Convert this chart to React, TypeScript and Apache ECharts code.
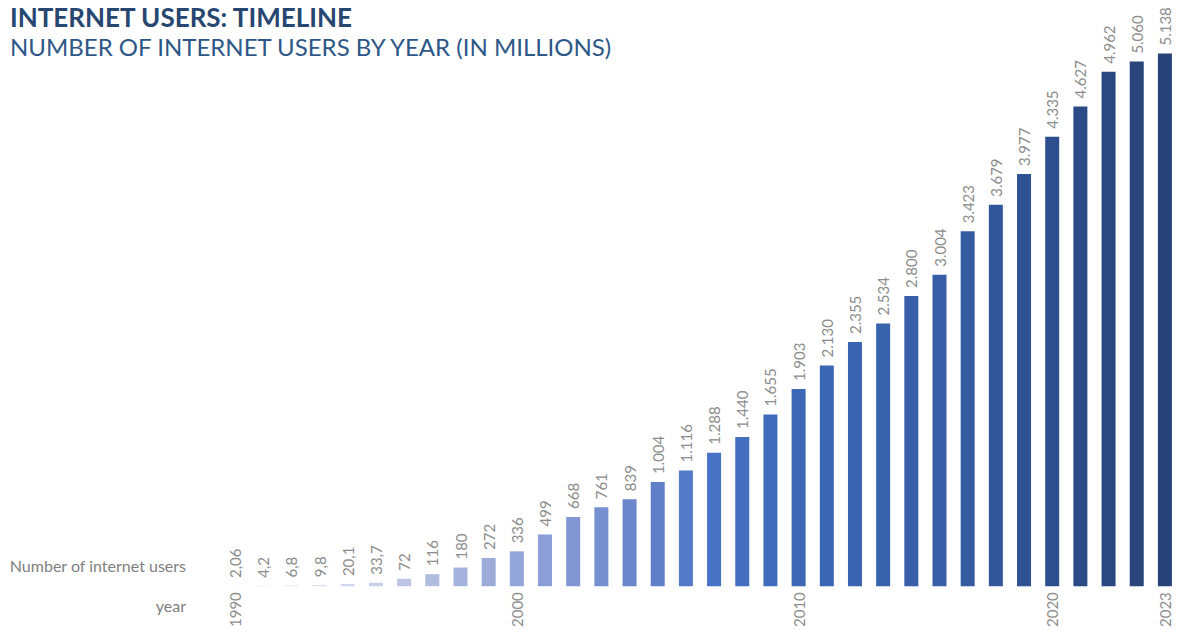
import React, { useEffect, useRef } from "react";
import * as echarts from "echarts";

const years: number[] = [
  1990, 1991, 1992, 1993, 1994, 1995, 1996, 1997, 1998, 1999,
  2000, 2001, 2002, 2003, 2004, 2005, 2006, 2007, 2008, 2009,
  2010, 2011, 2012, 2013, 2014, 2015, 2016, 2017, 2018, 2019,
  2020, 2021, 2022, 2023,
];

const users: number[] = [
  2.06, 4.2, 6.8, 9.8, 20.1, 33.7, 72, 116, 180, 272,
  336, 499, 668, 761, 839, 1004, 1116, 1288, 1440, 1655,
  1903, 2130, 2355, 2534, 2800, 3004, 3423, 3679, 3977, 4335,
  4627, 4962, 5060, 5138,
];

// tick labels as printed under the bars in the reference
const tickLabels: string[] = [
  "1990", "", "", "", "", "", "", "", "", "",
  "2000", "", "", "", "", "", "", "", "", "",
  "2010", "", "", "", "", "", "", "", "", "2020",
  "", "", "", "2023",
];

const TITLE = "INTERNET USERS: TIMELINE";
const SUBTITLE = "NUMBER OF INTERNET USERS BY YEAR (IN MILLIONS)";
const ROW_VALUE = "Number of internet users";
const ROW_YEAR = "year";

// colour stops (style) across the bar index
const colorStops: [number, number[]][] = [
  [0, [232, 234, 243]],
  [5, [200, 207, 232]],
  [8, [165, 178, 222]],
  [11, [140, 158, 214]],
  [14, [106, 135, 204]],
  [17, [72, 115, 196]],
  [20, [60, 104, 182]],
  [25, [55, 94, 166]],
  [29, [44, 78, 140]],
  [33, [38, 66, 118]],
];

function colorAt(i: number): string {
  for (let k = 0; k < colorStops.length - 1; k++) {
    const [a, ca] = colorStops[k];
    const [b, cb] = colorStops[k + 1];
    if (i >= a && i <= b) {
      const t = (i - a) / (b - a);
      const c = ca.map((v, j) => Math.round(v + (cb[j] - v) * t));
      return `rgb(${c[0]},${c[1]},${c[2]})`;
    }
  }
  const c = colorStops[colorStops.length - 1][1];
  return `rgb(${c[0]},${c[1]},${c[2]})`;
}

function fmt(v: number): string {
  if (v >= 1000) {
    const th = Math.floor(v / 1000);
    const rest = Math.round(v - th * 1000);
    return th + "." + String(rest).padStart(3, "0");
  }
  return String(v).replace(".", ",");
}

export default function App() {
  const ref = useRef<HTMLDivElement>(null);
  useEffect(() => {
    if (!ref.current) return;
    const chart = echarts.init(ref.current, undefined, { renderer: "svg" });
    const font = "Lato, 'Open Sans', sans-serif";
    chart.setOption({
      animation: false,
      backgroundColor: "#ffffff",
      textStyle: { fontFamily: font },
      grid: { left: 221, width: 964, top: 16, bottom: 41, containLabel: false },
      xAxis: {
        type: "category",
        data: years.map(String),
        axisLine: { show: false },
        axisTick: { show: false },
        axisLabel: {
          interval: 0,
          rotate: 90,
          margin: 6,
          color: "#8c8c8c",
          fontSize: 15,
          fontFamily: font,
          formatter: (_v: string, idx: number) => tickLabels[idx],
        },
      },
      yAxis: {
        type: "value",
        min: 0,
        max: 5500,
        show: false,
        splitLine: { show: false },
      },
      series: [
        {
          type: "bar",
          barWidth: 14,
          data: users.map((v, i) => ({ value: v, itemStyle: { color: colorAt(i) } })),
          label: {
            show: true,
            position: "top",
            rotate: 90,
            align: "left",
            verticalAlign: "middle",
            distance: 8,
            color: "#8c8c8c",
            fontSize: 15,
            fontFamily: font,
            formatter: (p: any) => fmt(p.value),
          },
        },
      ],
      graphic: [
        {
          type: "text",
          left: 10,
          top: 4,
          style: { text: TITLE, fill: "#274670", font: `bold 26px ${font}` },
        },
        {
          type: "text",
          left: 10,
          top: 34,
          style: { text: SUBTITLE, fill: "#2d5787", font: `24px ${font}` },
        },
        {
          type: "text",
          right: 1179 - 186,
          top: 557,
          style: { text: ROW_VALUE, fill: "#7f7f7f", font: `16px ${font}`, textAlign: "right" },
        },
        {
          type: "text",
          right: 1179 - 186,
          top: 597,
          style: { text: ROW_YEAR, fill: "#7f7f7f", font: `16px ${font}`, textAlign: "right" },
        },
      ],
    });
    return () => chart.dispose();
  }, []);
  return (
    <div
      ref={ref}
      style={{ position: "fixed", left: 0, top: 0, width: 1179, height: 630 }}
    />
  );
}
